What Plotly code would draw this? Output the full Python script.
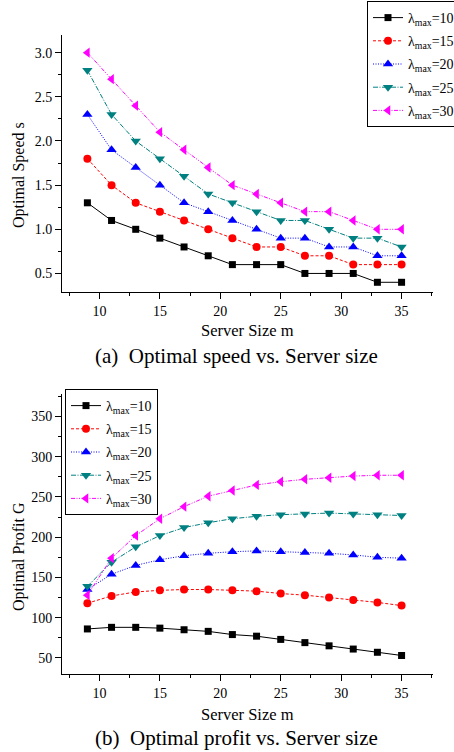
import plotly.graph_objects as go

m_values = [9, 11, 13, 15, 17, 19, 21, 23, 25, 27, 29, 31, 33, 35]
series_names = ["λ<sub>max</sub>=10", "λ<sub>max</sub>=15", "λ<sub>max</sub>=20",
                "λ<sub>max</sub>=25", "λ<sub>max</sub>=30"]

speed_l10 = [1.3, 1.1, 1.0, 0.9, 0.8, 0.7, 0.6, 0.6, 0.6, 0.5, 0.5, 0.5, 0.4, 0.4]
speed_l15 = [1.8, 1.5, 1.3, 1.2, 1.1, 1.0, 0.9, 0.8, 0.8, 0.7, 0.7, 0.6, 0.6, 0.6]
speed_l20 = [2.3, 1.9, 1.7, 1.5, 1.3, 1.2, 1.1, 1.0, 0.9, 0.9, 0.8, 0.8, 0.7, 0.7]
speed_l25 = [2.8, 2.3, 2.0, 1.8, 1.6, 1.4, 1.3, 1.2, 1.1, 1.1, 1.0, 0.9, 0.9, 0.8]
speed_l30 = [3.0, 2.7, 2.4, 2.1, 1.9, 1.7, 1.5, 1.4, 1.3, 1.2, 1.2, 1.1, 1.0, 1.0]

profit_l10 = [86, 88, 88, 87, 85, 83, 79, 77, 73, 69, 65, 61, 57, 53]
profit_l15 = [118, 127, 132, 134, 135, 135, 134, 133, 130, 128, 125, 122, 119, 115]
profit_l20 = [135, 154, 165, 172, 177, 180, 182, 183, 182, 181, 180, 178, 175, 174]
profit_l25 = [139, 169, 188, 202, 212, 218, 223, 226, 228, 229, 230, 229, 228, 227]
profit_l30 = [128, 174, 202, 223, 238, 251, 258, 265, 269, 272, 274, 276, 277, 277]

speeds = [speed_l10, speed_l15, speed_l20, speed_l25, speed_l30]
profits = [profit_l10, profit_l15, profit_l20, profit_l25, profit_l30]

colors = ["#000000", "#ff0000", "#0000ff", "#008080", "#ff00ff"]
symbols = ["square", "circle", "triangle-up", "triangle-down", "triangle-left"]
msizes = [7, 8, 9, 9, 9]
dashes = ["solid", "3px,2px", "1px,1.5px", "5px,1.5px,1px,1.5px", "4px,1.5px,1px,1.5px,1px,1.5px"]

W, H = 454, 752
FONT = "Liberation Serif"

fig = go.Figure()
for i in range(5):
    fig.add_trace(go.Scatter(
        x=m_values, y=speeds[i], name=series_names[i], mode="lines+markers",
        line=dict(color=colors[i], width=1, dash=dashes[i]),
        marker=dict(symbol=symbols[i], size=msizes[i], color=colors[i]),
        xaxis="x", yaxis="y", legend="legend", legendgroup="a%d" % i))
for i in range(5):
    fig.add_trace(go.Scatter(
        x=m_values, y=profits[i], name=series_names[i], mode="lines+markers",
        line=dict(color=colors[i], width=1, dash=dashes[i]),
        marker=dict(symbol=symbols[i], size=msizes[i], color=colors[i]),
        xaxis="x2", yaxis="y2", legend="legend2", legendgroup="b%d" % i))

xd = [62 / W, 433 / W]
axis_common = dict(showline=True, linecolor="black", linewidth=1, ticks="outside",
                   ticklen=6, tickcolor="black", showgrid=False, zeroline=False,
                   tickfont=dict(family=FONT, size=14, color="black"))
minor_common = dict(ticklen=3, ticks="outside", tickcolor="black")

fig.update_layout(
    width=W, height=H,
    margin=dict(l=0, r=0, t=0, b=0, autoexpand=False),
    plot_bgcolor="white", paper_bgcolor="white",
    font=dict(family=FONT, color="black"),
    xaxis=dict(domain=xd, anchor="y", range=[6.9, 37.6], tickmode="linear", tick0=10, dtick=5,
               minor=dict(dtick=2.5, tick0=7.5, **minor_common), **axis_common),
    yaxis=dict(domain=[1 - 292 / H, 1 - 35 / H], anchor="x", range=[0.29, 3.2], tickmode="linear",
               tick0=0.5, dtick=0.5, tickformat=".1f",
               minor=dict(dtick=0.25, tick0=0.25, **minor_common), **axis_common),
    xaxis2=dict(domain=xd, anchor="y2", range=[6.9, 37.6], tickmode="linear", tick0=10, dtick=5,
                minor=dict(dtick=2.5, tick0=7.5, **minor_common), **axis_common),
    yaxis2=dict(domain=[1 - 674 / H, 1 - 394 / H], anchor="x2", range=[30, 378], tickmode="linear",
                tick0=50, dtick=50,
                minor=dict(dtick=25, tick0=25, **minor_common), **axis_common),
    legend=dict(x=367 / W, y=1 - 1 / H, xanchor="left", yanchor="top",
                bordercolor="black", borderwidth=1, bgcolor="white",
                font=dict(family=FONT, size=14, color="black"), tracegroupgap=2),
    legend2=dict(x=65 / W, y=1 - 389 / H, xanchor="left", yanchor="top",
                 bordercolor="black", borderwidth=1, bgcolor="white",
                 font=dict(family=FONT, size=14, color="black"), tracegroupgap=2),
    showlegend=True,
)

annots = [
    dict(text="Optimal Speed s", x=19 / W, y=1 - 175 / H, textangle=-90, font=dict(size=16)),
    dict(text="Server Size m", x=247 / W, y=1 - 330 / H, font=dict(size=16.5)),
    dict(text="(a)  Optimal speed vs. Server size", x=237 / W, y=1 - 356 / H, font=dict(size=21)),
    dict(text="Optimal Profit G", x=19 / W, y=1 - 557 / H, textangle=-90, font=dict(size=16)),
    dict(text="Server Size m", x=247 / W, y=1 - 714 / H, font=dict(size=16.5)),
    dict(text="(b)  Optimal profit vs. Server size", x=237 / W, y=1 - 738 / H, font=dict(size=21)),
]
for a in annots:
    f = a.pop("font")
    f.update(family=FONT, color="black")
    fig.add_annotation(xref="paper", yref="paper", showarrow=False, xanchor="center",
                       yanchor="middle", font=f, **a)

fig.write_html("out.html", config={"displayModeBar": False},
               post_script="document.body.style.margin='0';document.body.style.padding='0';"
                           "document.body.style.overflow='hidden';")
